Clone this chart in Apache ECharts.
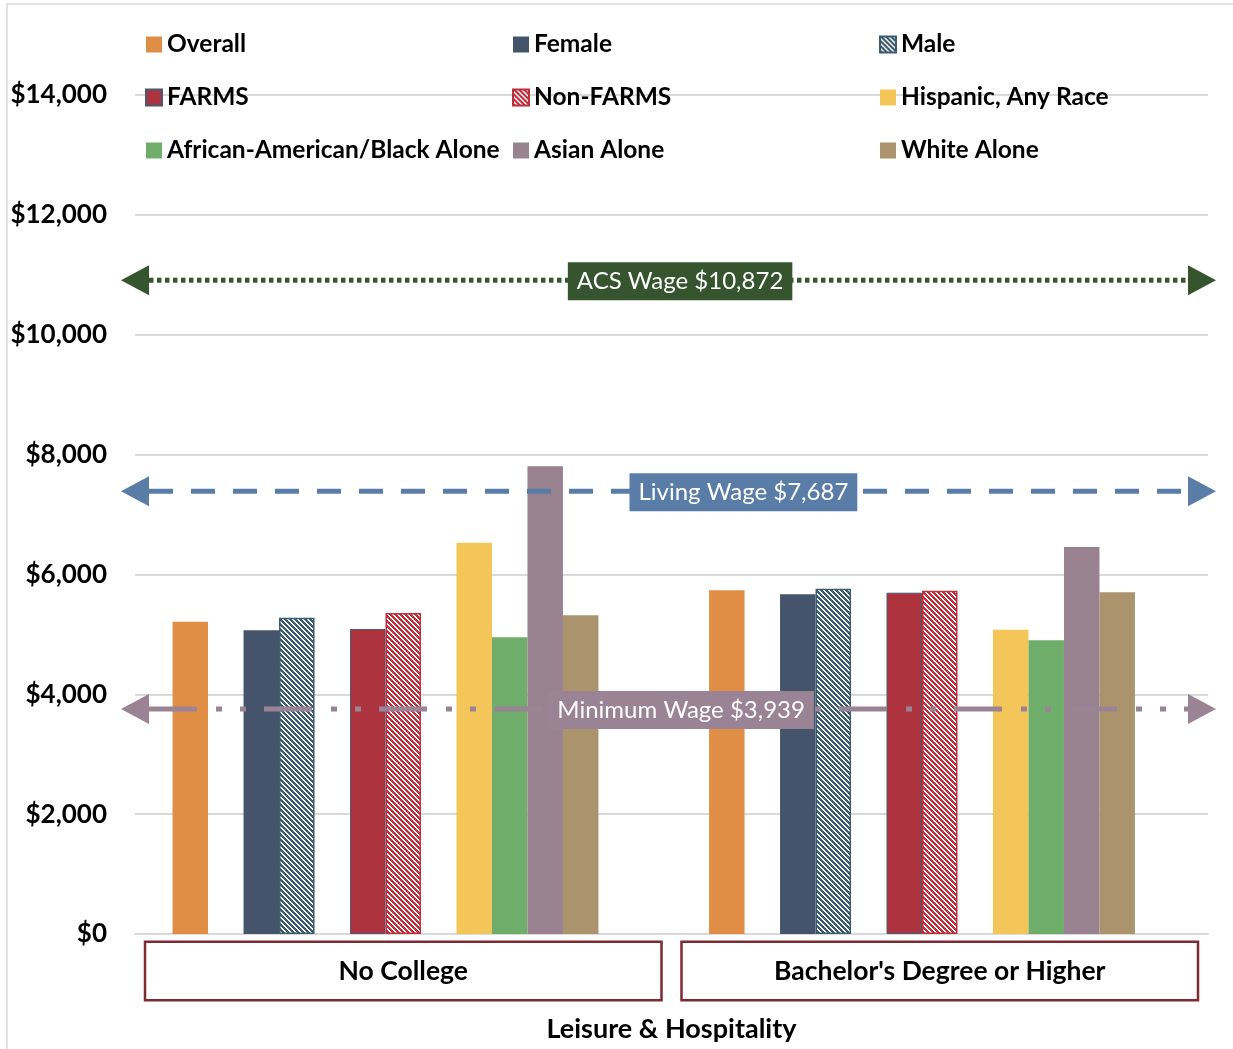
<!DOCTYPE html>
<html>
<head>
<meta charset="utf-8">
<script src="https://cdn.jsdelivr.net/npm/echarts@6/dist/echarts.min.js"></script>
<style>
html,body{margin:0;padding:0;background:#fff;overflow:hidden;}
#chart{width:1233px;height:1049px;}
</style>
</head>
<body>
<div id="chart"></div>
<script>
// ---- data ----
const categories = ['No College', "Bachelor's Degree or Higher"];
const axisTitle = 'Leisure & Hospitality';
const overall   = [5210, 5735];
const female    = [5070, 5668];
const male      = [5278, 5762];
const farms     = [5090, 5695];
const nonFarms  = [5356, 5729];
const hispanic  = [6530, 5078];
const black     = [4950, 4900];
const asian     = [7804, 6458];
const white     = [5318, 5701];
const yTicks = [0, 2000, 4000, 6000, 8000, 10000, 12000, 14000];
// reference lines: level where the drawn line sits and its label
const refLevels = [10910, 7390, 3755];
const refLabels = ['ACS Wage $10,872', 'Living Wage $7,687', 'Minimum Wage $3,939'];

// ---- styles ----
const FONT = 'Lato, "Open Sans", sans-serif';
function hatch(color) {
  const c = document.createElement('canvas');
  c.width = 10; c.height = 10;
  const ctx = c.getContext('2d');
  ctx.fillStyle = '#ffffff';
  ctx.fillRect(0, 0, 10, 10);
  ctx.fillStyle = color;
  for (let y = 0; y < 10; y++) for (let x = 0; x < 10; x++) {
    if ((((x - y) % 5) + 5) % 5 < 3) ctx.fillRect(x, y, 1, 1);
  }
  return { image: c, repeat: 'repeat' };
}

const spacer = (id) => ({ name: id, type: 'bar', data: [null, null], itemStyle: { color: 'transparent' }, silent: true });
const bar = (name, data, itemStyle) => ({ name, type: 'bar', data, itemStyle, barGap: '0%', barCategoryGap: '14%' });

const refStyles = [
  { color: '#36552F', dash: [4.5, 3.5], frac: 0.508 },
  { color: '#5A7DA8', dash: [24, 18], frac: 0.567 },
  { color: '#9A8394', dash: [48, 19, 6, 18, 6, 18], frac: 0.509 }
];

const series = [
  bar('Overall', overall, { color: '#E08D46' }),
  spacer('s1'),
  bar('Female', female, { color: '#44546A' }),
  bar('Male', male, { color: hatch('#3B5B70'), borderColor: '#3B5B70', borderWidth: 1.5 }),
  spacer('s2'),
  bar('FARMS', farms, { color: '#AD343E', borderColor: '#4A5870', borderWidth: 1 }),
  bar('Non-FARMS', nonFarms, { color: hatch('#BE2F3B'), borderColor: '#BE2F3B', borderWidth: 1.5 }),
  spacer('s3'),
  bar('Hispanic, Any Race', hispanic, { color: '#F4C65A' }),
  bar('African-American/Black Alone', black, { color: '#6FAD6B' }),
  bar('Asian Alone', asian, { color: '#998290' }),
  bar('White Alone', white, { color: '#AB936D' }),
  spacer('s4'),
  {
    type: 'custom',
    name: 'refs',
    z: 10,
    clip: false,
    silent: true,
    data: refLevels.map((v, i) => [0, v, i]),
    renderItem: function (params, api) {
      const i = api.value(2);
      const st = refStyles[i];
      const y = api.coord([0, api.value(1)])[1];
      const cs = params.coordSys;
      const x0 = cs.x - 14, x1 = cs.x + cs.width + 8;
      const al = 28, ah = 15;
      return {
        type: 'group',
        children: [
          { type: 'line', shape: { x1: x0 + al, y1: y, x2: x1 - al, y2: y },
            style: { stroke: st.color, lineWidth: 5, lineDash: st.dash, lineCap: 'butt' } },
          { type: 'polygon', shape: { points: [[x0, y], [x0 + al, y - ah], [x0 + al, y + ah]] }, style: { fill: st.color } },
          { type: 'polygon', shape: { points: [[x1, y], [x1 - al, y - ah], [x1 - al, y + ah]] }, style: { fill: st.color } },
          { type: 'text', x: cs.x + cs.width * st.frac, y: y + 1,
            style: { text: refLabels[i], fill: '#ffffff', font: '24px ' + FONT, align: 'center', verticalAlign: 'middle',
                     backgroundColor: st.color, padding: [7, 9, 7, 9] } }
        ]
      };
    }
  }
];

const legendBase = {
  orient: 'vertical', top: 32, padding: 0, itemWidth: 16, itemHeight: 16, itemGap: 28, icon: 'rect',
  textStyle: { fontFamily: FONT, fontWeight: 'bold', fontSize: 24.5, color: '#000', lineHeight: 24 },
  selectedMode: false
};

const chart = echarts.init(document.getElementById('chart'), null, { width: 1233, height: 1049 });
chart.setOption({
  backgroundColor: '#ffffff',
  animation: false,
  graphic: [{ type: 'rect', shape: { x: 7, y: 4, width: 1240, height: 1100 }, style: { fill: 'none', stroke: '#D9D9D9', lineWidth: 1.5 }, silent: true }],
  legend: [
    Object.assign({}, legendBase, { left: 145, data: ['Overall', 'FARMS', 'African-American/Black Alone'] }),
    Object.assign({}, legendBase, { left: 512, data: ['Female', 'Non-FARMS', 'Asian Alone'] }),
    Object.assign({}, legendBase, { left: 879, data: ['Male', 'Hispanic, Any Race', 'White Alone'] })
  ],
  grid: { left: 135, width: 1073, top: 95, height: 839, containLabel: false },
  xAxis: {
    type: 'category', data: categories,
    name: axisTitle, nameLocation: 'middle', nameGap: 82,
    nameTextStyle: { fontFamily: FONT, fontWeight: 'bold', fontSize: 27, color: '#000' },
    axisLine: { show: true, lineStyle: { color: '#D9D9D9', width: 2 } },
    axisTick: { show: false },
    axisLabel: {
      interval: 0, margin: 9, fontFamily: FONT, fontWeight: 'bold', fontSize: 26.5, color: '#000',
      width: 514, height: 56, lineHeight: 56, align: 'center',
      backgroundColor: '#fff', borderColor: '#7E2A33', borderWidth: 2.5
    }
  },
  yAxis: {
    type: 'value', min: yTicks[0], max: yTicks[yTicks.length - 1], interval: 2000,
    axisLine: { show: false }, axisTick: { show: false },
    axisLabel: { margin: 28, fontFamily: FONT, fontWeight: 'bold', fontSize: 26, color: '#000',
      formatter: v => '$' + v.toLocaleString('en-US') },
    splitLine: { lineStyle: { color: '#D9D9D9', width: 2 } }
  },
  series
});
</script>
</body>
</html>
